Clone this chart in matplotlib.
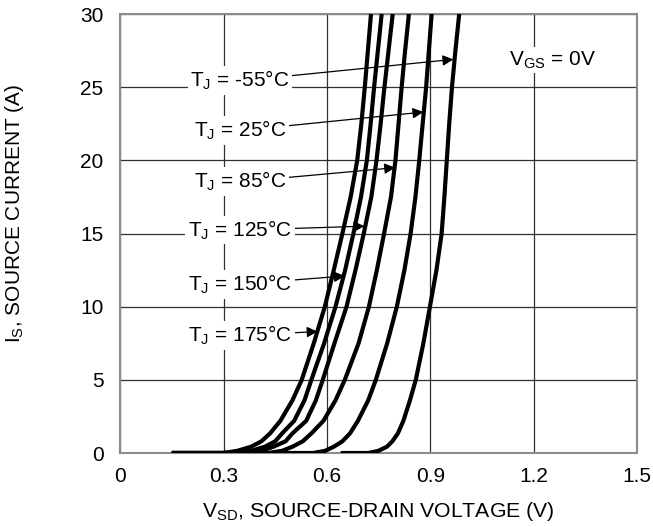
import numpy as np
import matplotlib
matplotlib.use("Agg")
import matplotlib.pyplot as plt

plt.rcParams['font.family'] = ['Liberation Sans', 'DejaVu Sans']
plt.rcParams['mathtext.fontset'] = 'custom'
plt.rcParams['mathtext.rm'] = 'Liberation Sans'
plt.rcParams['mathtext.it'] = 'Liberation Sans'

# source current levels (A) shared by every curve, first two are the flat start and knee base
current = [0, 0, 0.15, 0.43, 0.8, 1.34, 2.2, 3.6, 5, 7.5, 10, 12.5, 15, 17.5, 20, 22.5, 25, 27.5, 30]

# source-drain voltage (V) read at each current level
v_175 = [0.15, 0.30, 0.34, 0.38, 0.41, 0.435, 0.465, 0.500, 0.527, 0.562, 0.594, 0.620, 0.645, 0.669, 0.688, 0.700, 0.710, 0.719, 0.728]
v_150 = [0.15, 0.34, 0.38, 0.42, 0.45, 0.470, 0.505, 0.535, 0.555, 0.592, 0.625, 0.653, 0.677, 0.699, 0.716, 0.727, 0.737, 0.748, 0.759]
v_125 = [0.15, 0.37, 0.41, 0.445, 0.48, 0.500, 0.540, 0.568, 0.588, 0.622, 0.657, 0.683, 0.707, 0.729, 0.744, 0.756, 0.767, 0.779, 0.791]
v_85 = [0.15, 0.43, 0.47, 0.50, 0.53, 0.555, 0.590, 0.625, 0.652, 0.692, 0.722, 0.745, 0.766, 0.786, 0.799, 0.808, 0.817, 0.827, 0.838]
v_25 = [0.15, 0.56, 0.595, 0.62, 0.645, 0.667, 0.690, 0.720, 0.742, 0.775, 0.803, 0.825, 0.843, 0.857, 0.868, 0.878, 0.888, 0.896, 0.904]
v_m55 = [0.64, 0.72, 0.75, 0.774, 0.79, 0.806, 0.822, 0.841, 0.858, 0.880, 0.899, 0.918, 0.933, 0.941, 0.948, 0.955, 0.963, 0.973, 0.984]

curves = [v_175, v_150, v_125, v_85, v_25, v_m55]

# labels with the point each arrow touches and where the text sits
labels = ['-55', '25', '85', '125', '150', '175']
tip_v = [0.967, 0.880, 0.798, 0.709, 0.652, 0.573]
tip_i = [26.9, 23.3, 19.5, 15.5, 12.1, 8.3]
text_v = 0.348
text_i = [25.0, 21.6, 18.1, 14.8, 11.1, 7.6]

x_ticks = [0, 0.3, 0.6, 0.9, 1.2, 1.5]
x_ticklabels = ['0', '0.3', '0.6', '0.9', '1.2', '1.5']
y_ticks = [0, 5, 10, 15, 20, 25, 30]

fig = plt.figure(figsize=(6.53, 5.27), dpi=100)
ax = fig.add_axes([0.184, 0.1404, 0.7915, 0.833])

for v in curves:
    ax.plot(v, current, color='black', lw=3.0, solid_joinstyle='round',
            solid_capstyle='butt', zorder=3)

ax.set_xlim(0, 1.5)
ax.set_ylim(0, 30)
ax.set_xticks(x_ticks)
ax.set_xticklabels(x_ticklabels)
ax.set_yticks(y_ticks)
ax.tick_params(length=0, labelsize=15)
ax.tick_params(axis='y', pad=12)
ax.tick_params(axis='x', pad=10)
ax.grid(True, color='#303030', lw=0.9, zorder=1)
ax.set_axisbelow(True)
for s in ax.spines.values():
    s.set_color('#8c8c8c')
    s.set_linewidth(1.5)

for lab, tv, ti, yi in zip(labels, tip_v, tip_i, text_i):
    ax.annotate('$\\mathregular{T_J}$ = ' + lab + '\u00b0C', xy=(tv, ti), xytext=(text_v, yi),
                ha='center', va='baseline', fontsize=15, zorder=4,
                bbox=dict(fc='white', ec='none', pad=2),
                arrowprops=dict(arrowstyle='-|>', color='black', lw=0.9,
                                shrinkA=0, shrinkB=0, mutation_scale=16))

ax.text(1.254, 26.5, '$\\mathregular{V_{GS}}$ = 0V', ha='center', va='baseline',
        fontsize=15, zorder=4, bbox=dict(fc='white', ec='none', pad=2))

ax.set_xlabel('$\\mathregular{V_{SD}}$, SOURCE-DRAIN VOLTAGE (V)', fontsize=15.3, labelpad=10)
ax.set_ylabel('$\\mathregular{I_S}$, SOURCE CURRENT (A)', fontsize=15)
ax.yaxis.set_label_coords(-0.182, 0.545)

fig.savefig('out.png', dpi=100)
